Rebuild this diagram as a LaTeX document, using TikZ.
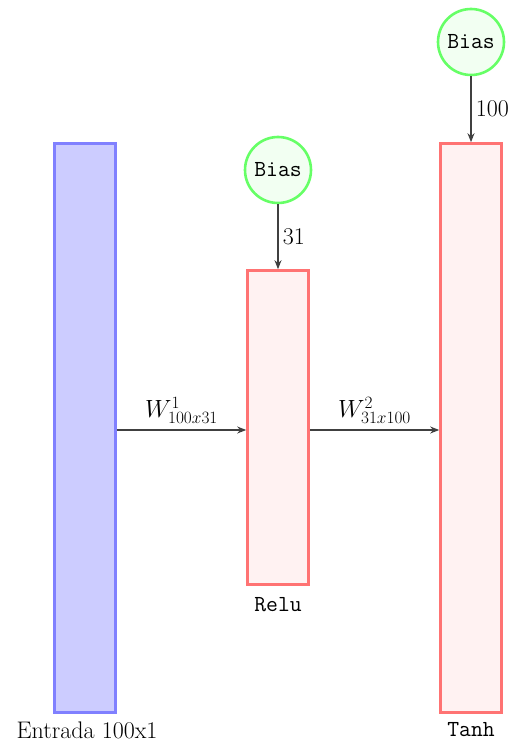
\documentclass[tikz,border=0pt]{standalone}
\usetikzlibrary{arrows.meta}
\begin{document}
\begin{tikzpicture}[x=1pt,y=-1pt,
  every node/.style={font=\fontsize{24}{29}\selectfont},
  layer/.style={draw, line width=2.6pt, minimum width=61pt, inner sep=0pt},
  inlayer/.style={layer, draw=blue!50, fill=blue!20},
  actlayer/.style={layer, draw=red!55, fill=red!5},
  ttlbl/.style={font=\fontsize{23}{28}\selectfont\ttfamily},
  biasnode/.style={circle, draw=green!60, fill=green!5, line width=2.6pt, minimum size=66pt, inner sep=0pt, ttlbl},
  conn/.style={draw=black!75, line width=1.5pt, -{Stealth[length=9pt,width=7pt]}},
  lbl/.style={inner sep=1pt},
  mlbl/.style={inner sep=1pt, font=\fontsize{25}{30}\selectfont}
]
\useasboundingbox (0,0) rectangle (512,743);
\node[inlayer, minimum height=569pt] (in) at (85,428) {};
\node[actlayer, minimum height=314pt] (h) at (278,427.5) {};
\node[actlayer, minimum height=569pt] (out) at (471,428) {};
\node[biasnode] (b1) at (278,170) {Bias};
\node[biasnode] (b2) at (471,42) {Bias};
\coordinate (inE) at (in.east |- 0,430);
\coordinate (hW) at (h.west |- 0,430);
\coordinate (hE) at (h.east |- 0,430);
\coordinate (outW) at (out.west |- 0,430);
\draw[conn] (inE) -- node[above=5pt, mlbl] (w1) {$W^1_{100x31}$} (hW);
\draw[conn] (hE) -- node[above=5pt, mlbl] (w2) {$W^2_{31x100}$} (outW);
\draw[conn] (b1) -- node[right=3pt, lbl] (l31) {31} (h.north);
\draw[conn] (b2) -- node[right=3pt, lbl] (l100) {100} (out.north);
\node[lbl] (tin) at (87,730) {Entrada 100x1};
\node[lbl, ttlbl] (th) at (278,605) {Relu};
\node[lbl, ttlbl] (tout) at (471,730) {Tanh};
\end{tikzpicture}
\end{document}
